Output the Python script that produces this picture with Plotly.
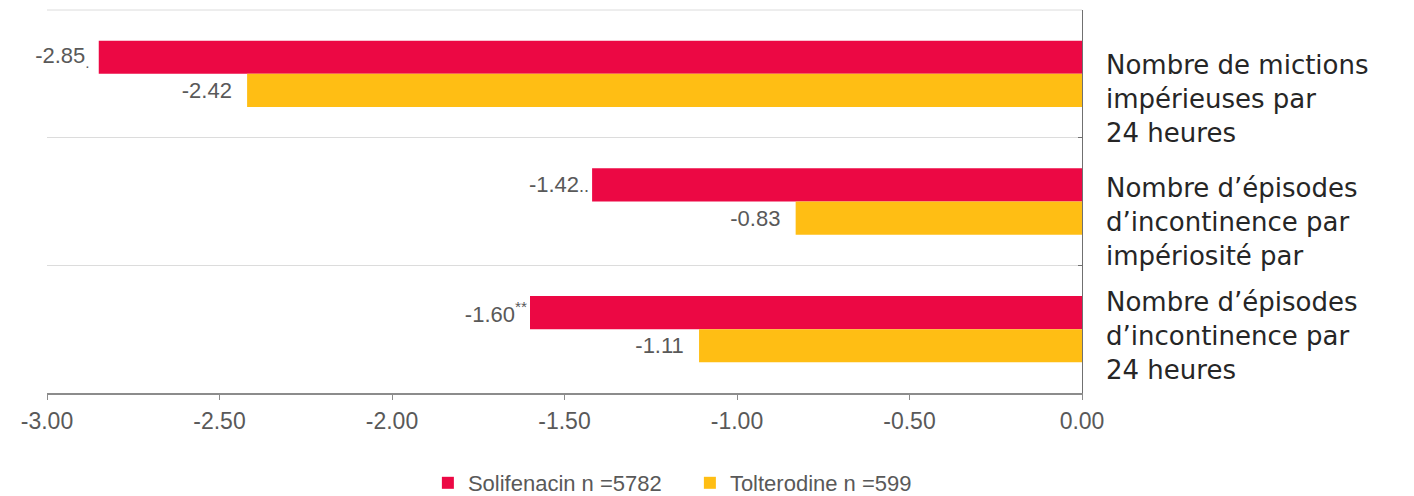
import plotly.graph_objects as go

# Outcome measures (top to bottom) and mean change from baseline
categories = [
    "Nombre de mictions<br>impérieuses par<br>24 heures",
    "Nombre d’épisodes<br>d’incontinence par<br>impériosité par",
    "Nombre d’épisodes<br>d’incontinence par<br>24 heures",
]
series_names = ["Solifenacin n =5782", "Tolterodine n =599"]
solifenacin = [-2.85, -1.42, -1.60]
tolterodine = [-2.42, -0.83, -1.11]
# significance marks appended to the Solifenacin labels
solifenacin_marks = ["<sub>.</sub>\u00a0", "<span style='font-size:18px'>..</span>", "<sup>**</sup>"]
tolterodine_marks = ["\u00a0\u00a0", "\u00a0\u00a0", "\u00a0\u00a0"]

x_ticks = [-3.0, -2.5, -2.0, -1.5, -1.0, -0.5, 0.0]

RED = "#EC0844"
YELLOW = "#FFBE14"
LABEL_GREY = "#595959"
GRID = "#dcdcdc"

cat_ids = list(range(len(categories)))


def labels(values, marks):
    return [f"{v:.2f}{m}" for v, m in zip(values, marks)]


fig = go.Figure()
for name, values, marks, color in [
    (series_names[0], solifenacin, solifenacin_marks, RED),
    (series_names[1], tolterodine, tolterodine_marks, YELLOW),
]:
    fig.add_trace(go.Bar(
        y=cat_ids,
        x=values,
        orientation="h",
        name=name,
        marker=dict(color=color, line=dict(width=0)),
        text=labels(values, marks),
        textposition="outside",
        constraintext="none",
        cliponaxis=False,
        textfont=dict(family="Liberation Sans, Arial, sans-serif", size=22, color=LABEL_GREY),
        hoverinfo="skip",
    ))

# category captions to the right of the value axis
caption_shift = [-25, -20, -7]
annotations = []
for i, text in enumerate(categories):
    annotations.append(dict(
        x=1, xref="paper", xshift=22, xanchor="left",
        y=i, yref="y", yshift=caption_shift[i], yanchor="middle",
        text=text, align="left", showarrow=False,
        font=dict(family="DejaVu Sans, sans-serif", size=26, color="#262626"),
    ))

n_cat = len(categories)
fig.update_layout(
    width=1414, height=496,
    margin=dict(l=47, r=332, t=10, b=103, autoexpand=False),
    paper_bgcolor="white", plot_bgcolor="white",
    barmode="group", bargap=0.48, bargroupgap=0,
    showlegend=True,
    legend=dict(
        orientation="h", x=0.368, xanchor="left", y=-0.235, yanchor="middle",
        font=dict(family="Liberation Sans, Arial, sans-serif", size=22, color=LABEL_GREY),
        itemwidth=30, entrywidth=217, traceorder="normal", bgcolor="rgba(0,0,0,0)",
    ),
    xaxis=dict(
        range=[-3, 0], tickvals=x_ticks, ticktext=[f"{v:.2f}" for v in x_ticks],
        ticks="outside", ticklen=5, tickwidth=1, tickcolor="#8c8c8c",
        showline=True, linecolor="#8c8c8c", linewidth=2,
        showgrid=False, zeroline=False, ticklabelstandoff=1,
        tickfont=dict(family="Liberation Sans, Arial, sans-serif", size=23, color=LABEL_GREY),
    ),
    yaxis=dict(
        type="category", categoryorder="array", categoryarray=cat_ids,
        range=[n_cat - 0.5, -0.5], side="right",
        tickson="boundaries", ticks="inside", ticklen=4, tickcolor="#707070",
        showline=True, linecolor="#707070", linewidth=1,
        showgrid=True, gridcolor=GRID, gridwidth=1,
        showticklabels=False, zeroline=False,
    ),
    # top boundary grid line of the plot frame
    shapes=[dict(type="line", xref="paper", yref="paper", x0=0, x1=1, y0=1, y1=1,
                 line=dict(color=GRID, width=1), layer="below")],
    annotations=annotations,
)

fig.write_html("out.html")
